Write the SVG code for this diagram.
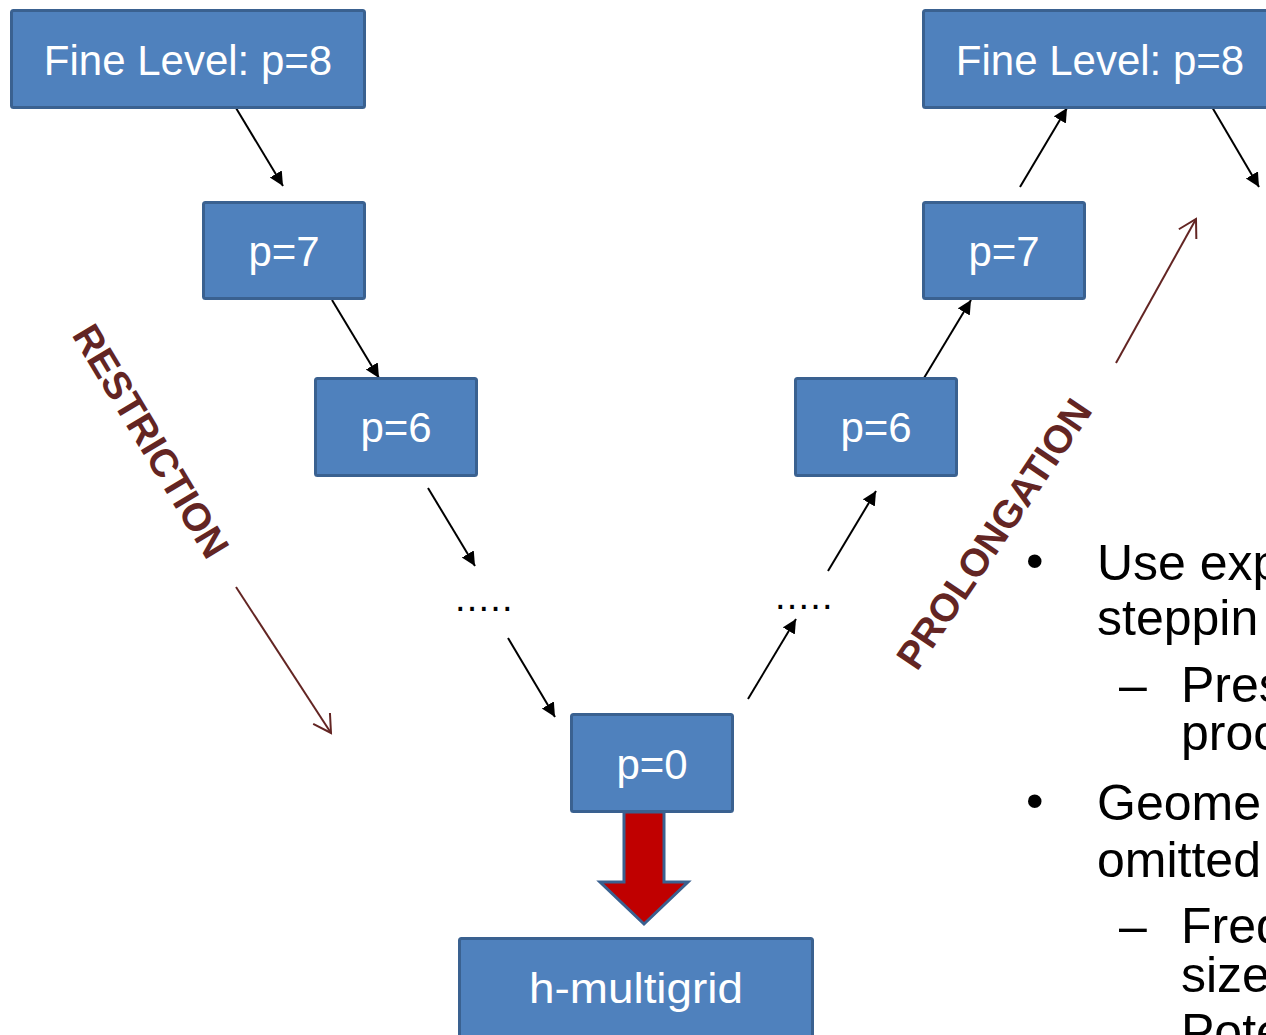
<svg xmlns="http://www.w3.org/2000/svg" width="1266" height="1035" viewBox="0 0 1266 1035">
  <style>
    .box { fill: #4f81bd; stroke: #3a6190; stroke-width: 3; }
    .lbl { font-family: "Liberation Sans", Arial, sans-serif; font-size: 42px; fill: #ffffff; text-anchor: middle; }
    .conn { stroke: #000000; stroke-width: 2; fill: none; marker-end: url(#headBlack); }
    .thin { stroke: #632523; stroke-width: 2; fill: none; marker-end: url(#headOpen); }
    .side { font-family: "Liberation Sans", Arial, sans-serif; font-size: 39px; font-weight: bold; fill: #632523; text-anchor: middle; dominant-baseline: central; }
    .body { font-family: "Liberation Sans", Arial, sans-serif; font-size: 50px; fill: #000000; }
    .dots { font-family: "Liberation Sans", Arial, sans-serif; font-size: 38px; letter-spacing: 1.2px; fill: #000000; }
  </style>
  <defs>
    <marker id="headBlack" markerUnits="userSpaceOnUse" markerWidth="16" markerHeight="16" refX="14" refY="7" orient="auto">
      <path d="M0,0 L14,7 L0,14 Z" fill="#000000"/>
    </marker>
    <marker id="headOpen" markerUnits="userSpaceOnUse" markerWidth="22" markerHeight="24" refX="18" refY="11" orient="auto">
      <path d="M0.7,1 L18,11 L0.7,21" fill="none" stroke="#632523" stroke-width="2"/>
    </marker>
  </defs>
  <rect width="1266" height="1035" fill="#ffffff"/>

  <g id="connectors">
    <line class="conn" x1="236" y1="108" x2="283" y2="186"/>
    <line class="conn" x1="332" y1="300" x2="379" y2="378"/>
    <line class="conn" x1="428" y1="488" x2="475" y2="566"/>
    <line class="conn" x1="508" y1="638" x2="555" y2="717"/>
    <line class="conn" x1="748" y1="699" x2="796" y2="619"/>
    <line class="conn" x1="828" y1="571" x2="876" y2="491"/>
    <line class="conn" x1="924" y1="378" x2="971" y2="300"/>
    <line class="conn" x1="1020" y1="187" x2="1067" y2="108"/>
    <line class="conn" x1="1212" y1="107" x2="1259" y2="187"/>
    <line class="thin" x1="236" y1="587" x2="331" y2="733"/>
    <line class="thin" x1="1116" y1="363" x2="1196" y2="219"/>
    <polygon id="to-hmultigrid" points="624,812 664,812 664,882 688,882 644,924 600,882 624,882" fill="#c00000" stroke="#3a6190" stroke-width="3" stroke-linejoin="miter"/>
  </g>

  <g id="node-fine-left">
    <rect class="box" x="11.5" y="10.5" width="353" height="97" rx="2"/>
    <text class="lbl" x="188" y="75">Fine Level: p=8</text>
  </g>
  <g id="node-p7-left">
    <rect class="box" x="203.5" y="202.5" width="161" height="96" rx="2"/>
    <text class="lbl" x="284" y="266">p=7</text>
  </g>
  <g id="node-p6-left">
    <rect class="box" x="315.5" y="378.5" width="161" height="97" rx="2"/>
    <text class="lbl" x="396" y="442">p=6</text>
  </g>
  <g id="node-dots-left">
    <text class="dots" x="455" y="611">.....</text>
  </g>
  <g id="node-p0">
    <rect class="box" x="571.5" y="714.5" width="161" height="97" rx="2"/>
    <text class="lbl" x="652" y="779">p=0</text>
  </g>
  <g id="node-hmultigrid">
    <rect class="box" x="459.5" y="938.5" width="353" height="120" rx="2"/>
    <text class="lbl" x="636" y="1003" textLength="214" lengthAdjust="spacingAndGlyphs">h-multigrid</text>
  </g>
  <g id="node-dots-right">
    <text class="dots" x="775" y="609">.....</text>
  </g>
  <g id="node-p6-right">
    <rect class="box" x="795.5" y="378.5" width="161" height="97" rx="2"/>
    <text class="lbl" x="876" y="442">p=6</text>
  </g>
  <g id="node-p7-right">
    <rect class="box" x="923.5" y="202.5" width="161" height="96" rx="2"/>
    <text class="lbl" x="1004" y="266">p=7</text>
  </g>
  <g id="node-fine-right">
    <rect class="box" x="923.5" y="10.5" width="353" height="97" rx="2"/>
    <text class="lbl" x="1100" y="75">Fine Level: p=8</text>
  </g>

  <g id="label-restriction">
    <text class="side" transform="translate(151,441) rotate(59)">RESTRICTION</text>
  </g>
  <g id="label-prolongation">
    <text class="side" transform="translate(994,534) rotate(-56)">PROLONGATION</text>
  </g>

  <g id="bullets">
    <text class="body" x="1026" y="578">•</text>
    <text class="body" x="1097" y="580">Use exp</text>
    <text class="body" x="1097" y="635">steppin</text>
    <text class="body" x="1119" y="702">–</text>
    <text class="body" x="1181" y="702">Pres</text>
    <text class="body" x="1181" y="750">proc</text>
    <text class="body" x="1026" y="818">•</text>
    <text class="body" x="1097" y="820">Geome</text>
    <text class="body" x="1097" y="877">omitted</text>
    <text class="body" x="1119" y="943">–</text>
    <text class="body" x="1181" y="943">Freq</text>
    <text class="body" x="1181" y="992">size</text>
    <text class="body" x="1181" y="1049">Pote</text>
  </g>
</svg>
